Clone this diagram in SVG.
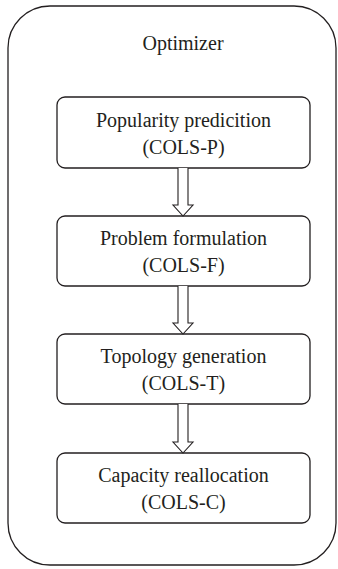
<svg xmlns="http://www.w3.org/2000/svg" width="338" height="569" viewBox="0 0 338 569">
<style>
.box{fill:#fff;stroke:#231f20;stroke-width:1.3}
.t{font-family:"Liberation Serif",serif;font-size:20px;fill:#231f20;text-anchor:middle}
.arr{fill:#fff;stroke:#231f20;stroke-width:1.1}
</style>
<rect width="338" height="569" fill="#fff"/>
<g id="optimizer">
<rect class="box" x="8" y="6" width="328" height="559" rx="42" ry="42"/>
<text class="t" x="183" y="50">Optimizer</text>
</g>
<g id="cols-p">
<rect class="box" x="57" y="97" width="253" height="71" rx="8"/>
<text class="t" x="183.5" y="127">Popularity predicition</text>
<text class="t" x="183.5" y="154">(COLS-P)</text>
</g>
<g id="cols-f">
<rect class="box" x="57" y="216" width="253" height="70" rx="8"/>
<text class="t" x="183.5" y="245">Problem formulation</text>
<text class="t" x="183.5" y="272">(COLS-F)</text>
</g>
<g id="cols-t">
<rect class="box" x="57" y="334" width="253" height="70" rx="8"/>
<text class="t" x="183.5" y="363">Topology generation</text>
<text class="t" x="183.5" y="390">(COLS-T)</text>
</g>
<g id="cols-c">
<rect class="box" x="57" y="453" width="253" height="70" rx="8"/>
<text class="t" x="183.5" y="482">Capacity reallocation</text>
<text class="t" x="183.5" y="509">(COLS-C)</text>
</g>
<g id="connectors">
<path class="arr" d="M178,168 V205 H173 L183,216 L193,205 H188 V168"/>
<path class="arr" d="M178,286 V323 H173 L183,334 L193,323 H188 V286"/>
<path class="arr" d="M178,404 V442 H173 L183,453 L193,442 H188 V404"/>
</g>
</svg>
